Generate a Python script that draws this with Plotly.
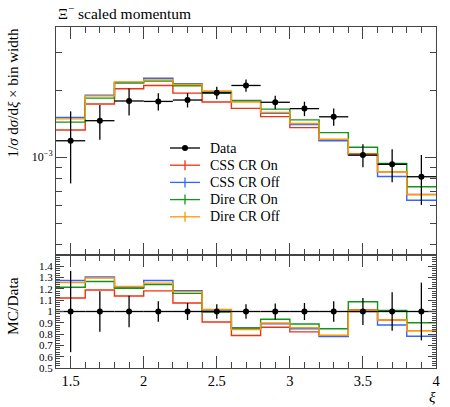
import plotly.graph_objects as go

# ---- data ----
bin_edges = [1.4, 1.6, 1.8, 2.0, 2.2, 2.4, 2.6, 2.8, 3.0, 3.2, 3.4, 3.6, 3.8, 4.0]
xi = [1.5, 1.7, 1.9, 2.1, 2.3, 2.5, 2.7, 2.9, 3.1, 3.3, 3.5, 3.7, 3.9]

data_vals = [1.186e-3, 1.463e-3, 1.798e-3, 1.790e-3, 1.816e-3, 1.960e-3, 2.115e-3,
             1.774e-3, 1.660e-3, 1.524e-3, 1.021e-3, 0.927e-3, 0.814e-3]
data_errs = [0.427e-3, 0.263e-3, 0.252e-3, 0.161e-3, 0.136e-3, 0.127e-3, 0.137e-3,
             0.124e-3, 0.125e-3, 0.137e-3, 0.123e-3, 0.158e-3, 0.208e-3]

css_cr_on = [1.327e-3, 1.742e-3, 2.044e-3, 2.116e-3, 1.952e-3, 1.778e-3, 1.665e-3,
             1.526e-3, 1.361e-3, 1.196e-3, 1.036e-3, 0.857e-3, 0.676e-3]
css_cr_off = [1.512e-3, 1.909e-3, 2.185e-3, 2.282e-3, 2.152e-3, 1.984e-3, 1.810e-3,
              1.582e-3, 1.406e-3, 1.186e-3, 1.021e-3, 0.816e-3, 0.636e-3]
dire_cr_on = [1.441e-3, 1.852e-3, 2.168e-3, 2.218e-3, 2.108e-3, 1.950e-3, 1.798e-3,
              1.652e-3, 1.476e-3, 1.291e-3, 1.109e-3, 0.935e-3, 0.733e-3]
dire_cr_off = [1.491e-3, 1.896e-3, 2.195e-3, 2.239e-3, 2.136e-3, 1.995e-3, 1.779e-3,
               1.593e-3, 1.421e-3, 1.204e-3, 1.031e-3, 0.857e-3, 0.675e-3]

series_names = ["CSS CR On", "CSS CR Off", "Dire CR On", "Dire CR Off"]
series_vals = [css_cr_on, css_cr_off, dire_cr_on, dire_cr_off]
series_colors = ["#EE3311", "#3366FF", "#109618", "#FF9900"]

main_ytickvals = [1e-3]
main_yticktext = ["10<sup>−3</sup>"]
main_yminor = [4e-4, 5e-4, 6e-4, 7e-4, 8e-4, 9e-4, 2e-3, 3e-3]
ratio_tickvals = [0.5, 0.6, 0.7, 0.8, 0.9, 1.0, 1.1, 1.2, 1.3, 1.4]
ratio_ticktext = ["0.5", "0.6", "0.7", "0.8", "0.9", "1", "1.1", "1.2", "1.3", "1.4"]

FONT = "Liberation Serif"
AX = "#444444"

# ---- layout geometry (pixels) ----
W, H = 450, 407
ML, MR, MT, MB = 56, 14, 27, 39
PW, PH = W - ML - MR, H - MT - MB
ratio_top = (368 - 255) / PH


def px2x(px):
    return (px - ML) / PW


def py2y(py):
    return (H - MB - py) / PH


fig = go.Figure()

half_w = [(bin_edges[i + 1] - bin_edges[i]) / 2 for i in range(len(xi))]

# MC step histograms (main + ratio)
for name, vals, col in zip(series_names, series_vals, series_colors):
    ys = list(vals) + [vals[-1]]
    fig.add_trace(go.Scatter(x=bin_edges, y=ys, mode="lines", name=name,
                             line=dict(color=col, width=1.4, shape="hv"),
                             xaxis="x", yaxis="y", hoverinfo="skip"))
    rat = [v / d for v, d in zip(vals, data_vals)]
    fig.add_trace(go.Scatter(x=bin_edges, y=rat + [rat[-1]], mode="lines", name=name,
                             line=dict(color=col, width=1.4, shape="hv"),
                             xaxis="x2", yaxis="y2", hoverinfo="skip"))

# Data
fig.add_trace(go.Scatter(x=xi, y=data_vals, mode="markers", name="Data",
                         marker=dict(color="black", size=6),
                         error_x=dict(type="data", array=half_w, color="black", thickness=1.3, width=0),
                         error_y=dict(type="data", array=data_errs, color="black", thickness=1.3, width=0),
                         xaxis="x", yaxis="y"))
fig.add_trace(go.Scatter(x=xi, y=[d / d for d in data_vals], mode="markers", name="Data",
                         marker=dict(color="black", size=6),
                         error_x=dict(type="data", array=half_w, color="black", thickness=1.3, width=0),
                         error_y=dict(type="data", array=[e / d for e, d in zip(data_errs, data_vals)],
                                      color="black", thickness=1.3, width=0),
                         xaxis="x2", yaxis="y2"))

# ---- custom legend (glyphs + text) ----
shapes = []
annotations = []
leg_names = ["Data"] + series_names
leg_colors = ["black"] + series_colors
row0, row_step = 148.0, 17.2
gx0, gx1, gxc, tx = 170, 200, 185, 208
for i, (nm, col) in enumerate(zip(leg_names, leg_colors)):
    ry = row0 + i * row_step
    shapes.append(dict(type="line", xref="paper", yref="paper",
                       x0=px2x(gx0), x1=px2x(gx1), y0=py2y(ry), y1=py2y(ry),
                       line=dict(color=col, width=1.3)))
    if i == 0:
        shapes.append(dict(type="circle", xref="paper", yref="paper",
                           x0=px2x(gxc - 3), x1=px2x(gxc + 3), y0=py2y(ry + 3), y1=py2y(ry - 3),
                           fillcolor="black", line=dict(color="black", width=0)))
    else:
        shapes.append(dict(type="line", xref="paper", yref="paper",
                           x0=px2x(gxc), x1=px2x(gxc), y0=py2y(ry - 5), y1=py2y(ry + 5),
                           line=dict(color=col, width=1.3)))
    annotations.append(dict(text=nm, xref="paper", yref="paper", x=px2x(tx), y=py2y(ry),
                            xanchor="left", yanchor="middle", showarrow=False,
                            font=dict(size=14)))

annotations += [
    dict(text="Ξ<sup>−</sup> scaled momentum", xref="paper", yref="paper", x=0, y=1,
         xanchor="left", yanchor="bottom", yshift=3, showarrow=False, font=dict(size=15.5)),
    dict(text="1/<i>σ</i> d<i>σ</i>/d<i>ξ</i> × bin width", xref="paper", yref="paper",
         x=px2x(12), y=py2y(27), xanchor="center", yanchor="top",
         textangle=-90, showarrow=False, font=dict(size=15)),
    dict(text="MC/Data", xref="paper", yref="paper", x=px2x(12), y=py2y(306),
         xanchor="center", yanchor="middle", textangle=-90, showarrow=False, font=dict(size=15.5)),
    dict(text="<i>ξ</i>", xref="paper", yref="paper", x=px2x(432), y=py2y(397),
         xanchor="center", yanchor="middle", showarrow=False, font=dict(size=15)),
]

fig.update_layout(
    width=W, height=H,
    margin=dict(l=ML, r=MR, t=MT, b=MB, autoexpand=False),
    paper_bgcolor="white", plot_bgcolor="white",
    font=dict(family=FONT, size=14, color="black"),
    showlegend=False,
    hovermode=False,
    xaxis=dict(domain=[0, 1], range=[1.4, 4.0], anchor="y", showticklabels=False,
               showline=True, linecolor=AX, linewidth=1, mirror="allticks",
               ticks="inside", ticklen=12, tickcolor=AX, dtick=0.5, tick0=0,
               minor=dict(ticks="inside", ticklen=6, dtick=0.1, tick0=0, tickcolor=AX, showgrid=False),
               showgrid=False, zeroline=False, automargin=False),
    yaxis=dict(domain=[ratio_top, 1], type="log", range=[-3.445, -2.409], anchor="x",
               showline=True, linecolor=AX, linewidth=1, mirror="allticks",
               ticks="inside", ticklen=11, tickcolor=AX,
               tickmode="array", tickvals=main_ytickvals, ticktext=main_yticktext,
               tickfont=dict(size=12),
               minor=dict(ticks="inside", ticklen=6, tickmode="array", tickvals=main_yminor,
                          tickcolor=AX, showgrid=False),
               showgrid=False, zeroline=False, automargin=False),
    xaxis2=dict(domain=[0, 1], range=[1.4, 4.0], anchor="y2",
                showline=True, linecolor=AX, linewidth=1, mirror="allticks",
                ticks="inside", ticklen=12, tickcolor=AX, dtick=0.5, tick0=0,
                tickfont=dict(size=14.5),
                minor=dict(ticks="inside", ticklen=6, dtick=0.1, tick0=0, tickcolor=AX, showgrid=False),
                showgrid=False, zeroline=False, automargin=False),
    yaxis2=dict(domain=[0, ratio_top], range=[0.5, 1.5], anchor="x2",
                showline=True, linecolor=AX, linewidth=1, mirror="allticks",
                ticks="inside", ticklen=8, tickcolor=AX,
                tickmode="array", tickvals=ratio_tickvals, ticktext=ratio_ticktext,
                tickfont=dict(size=11),
                minor=dict(ticks="inside", ticklen=4, dtick=0.02, tick0=0, tickcolor=AX, showgrid=False),
                showgrid=False, zeroline=False, automargin=False),
    shapes=shapes,
    annotations=annotations,
)

fig.write_html("out.html", config={"displayModeBar": False},
               post_script="document.body.style.margin='0px';")
